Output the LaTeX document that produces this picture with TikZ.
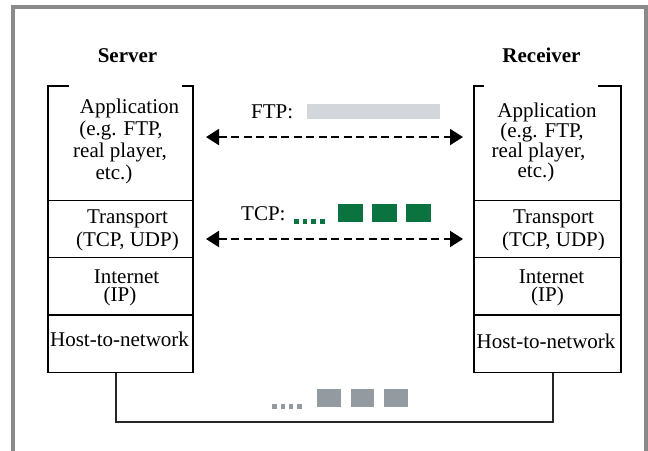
\documentclass[tikz,border=0pt]{standalone}
\usepackage{fontspec}
\setmainfont{Liberation Serif}
\usetikzlibrary{arrows.meta}
\definecolor{framegray}{HTML}{8A8A8A}
\definecolor{ftpgray}{HTML}{D3D6DA}
\definecolor{tcpgreen}{HTML}{0A7340}
\definecolor{netgray}{HTML}{939AA0}
\tikzset{
  layer/.style={draw, line width=1.3pt, minimum width=145pt, inner sep=0pt, outer sep=0pt},
  applayer/.style={minimum width=145pt, inner sep=0pt, outer sep=0pt},
  txt/.style={font=\fontsize{21}{23}\selectfont, align=center, inner sep=0pt},
  ln/.style={font=\fontsize{21}{23}\selectfont, inner sep=0pt, anchor=base},
  head/.style={font=\fontsize{21}{23}\selectfont\bfseries, inner sep=0pt, anchor=base},
  link/.style={line width=2pt, dash pattern=on 8pt off 4.5pt,
    {Triangle[length=13pt,width=16pt]}-{Triangle[length=13pt,width=16pt]}},
  bus/.style={line width=1.3pt, draw=black!85},
  frame/.style={line width=4pt, draw=framegray},
}
\begin{document}
\begin{tikzpicture}[x=1pt,y=-1pt]
\useasboundingbox (0,0) rectangle (648,450);
% frame
\draw[frame] (13,452) -- (13,7) -- (645.5,7) -- (645.5,452);
% headings
\node[head] (srv) at (127.5,62) {Server};
\node[head] (rcv) at (541.5,62) {Receiver};
% server stack
\node[applayer, minimum height=114.7pt] (sApp) at (120.5,143.35) {};
\node[layer, minimum height=57pt] (sTr) at (120.5,229.2) {};
\node[layer, minimum height=57.3pt] (sIn) at (120.5,286.35) {};
\node[layer, minimum height=57.7pt] (sHo) at (120.5,343.85) {};
\draw[line width=1.3pt] ([xshift=21pt]sApp.north west) -- (sApp.north west) -- (sApp.south west)
  -- (sApp.south east) -- (sApp.north east) -- ([xshift=-11pt]sApp.north east);
% receiver stack
\node[applayer, minimum height=114.7pt, minimum width=147pt] (rApp) at (547.5,143.35) {};
\node[layer, minimum height=57pt, minimum width=147pt] (rTr) at (547.5,229.2) {};
\node[layer, minimum height=57.3pt, minimum width=147pt] (rIn) at (547.5,286.35) {};
\node[layer, minimum height=57.7pt, minimum width=147pt] (rHo) at (547.5,343.85) {};
\draw[line width=1.3pt] ([xshift=10pt]rApp.north west) -- (rApp.north west) -- (rApp.south west)
  -- (rApp.south east) -- (rApp.north east) -- ([xshift=-23pt]rApp.north east);
% texts server
\node[ln] (sA1) at (129.5,113) {Application};
\node[ln] (sA2) at (121,135) {(e.g. FTP,};
\node[ln] (sA3) at (120,157) {real player,};
\node[ln] (sA4) at (114,179) {etc.)};
\node[txt] (sTrT) at (127.5,230) {Transport\\(TCP, UDP)};
\node[ln] (sI1) at (126.5,283) {Internet};
\node[ln] (sI2) at (120,301) {(IP)};
\node[ln] (sHoT) at (119.5,346) {Host-to-network};
% texts receiver
\node[ln] (rA1) at (547,117) {Application};
\node[ln] (rA2) at (542,137) {(e.g. FTP,};
\node[ln] (rA3) at (538.5,157) {real player,};
\node[ln] (rA4) at (536,177) {etc.)};
\node[txt] (rTrT) at (553.5,230) {Transport\\(TCP, UDP)};
\node[ln] (rI1) at (551.5,283) {Internet};
\node[ln] (rI2) at (547.5,301) {(IP)};
\node[ln] (rHoT) at (546,348) {Host-to-network};
% peer links
\draw[link] ([shift={(13,-6.3)}]sApp.east) -- ([shift={(-11,-6.3)}]rApp.west);
\draw[link] ([shift={(13,9.8)}]sTr.east) -- ([shift={(-11,9.8)}]rTr.west);
% FTP data
\node[txt, anchor=base west] (ftpL) at (251,118) {FTP:};
\fill[ftpgray] (307,104) rectangle (440,119);
% TCP data
\node[txt, anchor=base west] (tcpL) at (241,220) {TCP:};
\foreach \x in {294,302.7,311.4,320.1} \fill[tcpgreen] (\x,219) rectangle ++(4.5,4.5);
\foreach \x in {338,372,406} \fill[tcpgreen] (\x,204) rectangle ++(24.5,18);
% physical link
\coordinate (busy) at (0,422);
\coordinate (sDown) at ([xshift=-4.5pt]sHo.south);
\coordinate (rDown) at ([xshift=5.5pt]rHo.south);
\draw[bus] (sDown) -- (sDown |- busy) -- (rDown |- busy) -- (rDown);
\foreach \x in {272.3,280.5,288.7,296.9} \fill[netgray] (\x,404) rectangle ++(4.6,4.8);
\foreach \x in {317,350.5,384} \fill[netgray] (\x,389) rectangle ++(23.5,18);
\end{tikzpicture}
\end{document}
